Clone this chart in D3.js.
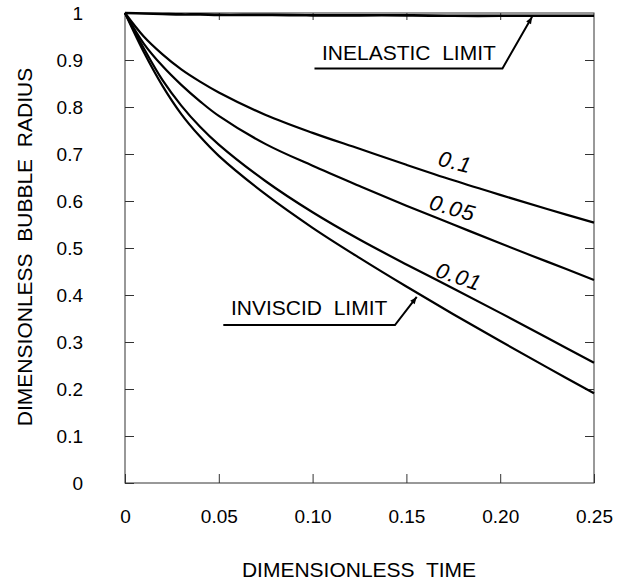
<!DOCTYPE html>
<html>
<head>
<meta charset="utf-8">
<script src="https://cdn.jsdelivr.net/npm/d3@7"></script>
<style>
  body { margin: 0; background: #fff; }
  text { font-family: 'Liberation Sans', Arial, sans-serif; fill: #000; white-space: pre; }
</style>
</head>
<body>
<script>
// values
var times = [0, 0.01, 0.02, 0.03, 0.04, 0.05, 0.075, 0.1, 0.125, 0.15, 0.175, 0.2, 0.225, 0.25];
var rInelastic = [1, 0.999, 0.998, 0.997, 0.997, 0.996, 0.996, 0.995, 0.995, 0.995, 0.994, 0.994, 0.994, 0.994];
var r01 = [1, 0.950, 0.912, 0.880, 0.854, 0.831, 0.783, 0.745, 0.711, 0.677, 0.644, 0.613, 0.583, 0.554];
var r005 = [1, 0.935, 0.887, 0.847, 0.812, 0.781, 0.721, 0.675, 0.632, 0.590, 0.550, 0.510, 0.471, 0.432];
var r001 = [1, 0.925, 0.857, 0.803, 0.758, 0.720, 0.642, 0.576, 0.518, 0.465, 0.414, 0.362, 0.309, 0.256];
var rInviscid = [1, 0.917, 0.845, 0.785, 0.737, 0.696, 0.614, 0.543, 0.479, 0.418, 0.359, 0.302, 0.246, 0.191];

var xTicks = [0, 0.05, 0.1, 0.15, 0.2, 0.25];
var xTickLabels = ['0', '0.05', '0.10', '0.15', '0.20', '0.25'];
var yTicks = [0, 0.1, 0.2, 0.3, 0.4, 0.5, 0.6, 0.7, 0.8, 0.9, 1];
var yTickLabels = ['0', '0.1', '0.2', '0.3', '0.4', '0.5', '0.6', '0.7', '0.8', '0.9', '1'];

var curveNames = ['0.1', '0.05', '0.01'];
var limitNames = ['INELASTIC  LIMIT', 'INVISCID  LIMIT'];

var svg = d3.select('body')
  .append('svg')
  .attr('width', 627)
  .attr('height', 584);

var x = d3.scaleLinear().domain([0, 0.25]).range([125, 594]);
var y = d3.scaleLinear().domain([0, 1]).range([483, 13]);

// ticks, all pointing into the box
function styleAxis(g) {
  g.select('.domain').remove();
  g.selectAll('line').attr('stroke', '#333').attr('stroke-width', 1);
  g.selectAll('text').style('font-size', '19px').attr('fill', '#000');
}

svg.append('g')
  .attr('transform', 'translate(0,' + 483 + ')')
  .call(d3.axisBottom(x).tickValues(xTicks).tickSize(-9).tickSizeOuter(0).tickPadding(27)
    .tickFormat(function (d, i) { return xTickLabels[i]; }))
  .call(styleAxis);

svg.append('g')
  .attr('transform', 'translate(0,' + 13 + ')')
  .call(d3.axisTop(x).tickValues(xTicks.slice(1, -1)).tickSize(-7).tickSizeOuter(0).tickFormat(''))
  .call(styleAxis);

svg.append('g')
  .attr('transform', 'translate(' + 125 + ',0)')
  .call(d3.axisLeft(y).tickValues(yTicks).tickSize(-9).tickSizeOuter(0).tickPadding(42)
    .tickFormat(function (d, i) { return yTickLabels[i]; }))
  .call(styleAxis);

svg.append('g')
  .attr('transform', 'translate(' + 594 + ',0)')
  .call(d3.axisRight(y).tickValues(yTicks.slice(1, -1)).tickSize(-9).tickSizeOuter(0).tickFormat(''))
  .call(styleAxis);

// frame
svg.append('rect')
  .attr('x', x(0))
  .attr('y', y(1))
  .attr('width', x(0.25) - x(0))
  .attr('height', y(0) - y(1))
  .attr('fill', 'none')
  .attr('stroke', '#333')
  .attr('stroke-width', 1);

// curves
var line = d3.line()
  .x(function (d) { return x(d[0]); })
  .y(function (d) { return y(d[1]); })
  .curve(d3.curveCatmullRom.alpha(0.5));

[rInelastic, r01, r005, r001, rInviscid].forEach(function (rs, k) {
  svg.append('path')
    .datum(times.map(function (t, i) { return [t, rs[i]]; }))
    .attr('d', line)
    .attr('fill', 'none')
    .attr('stroke', '#000')
    .attr('stroke-width', k == 0 ? 2.6 : 2.2);
});

// curve labels, italic, tilted along the curves
var labelPos = [[0.176, 0.683, 14], [0.1746, 0.585, 16], [0.178, 0.439, 19]];
curveNames.forEach(function (name, i) {
  var p = labelPos[i];
  svg.append('text')
    .attr('transform', 'translate(' + x(p[0]) + ',' + y(p[1]) + ') rotate(' + p[2] + ')')
    .attr('text-anchor', 'middle')
    .attr('dominant-baseline', 'central')
    .style('font-size', '22px')
    .style('font-style', 'italic')
    .style('letter-spacing', '1px')
    .text(name);
});

// limit callouts: text, underline, slanted leader with arrow
svg.append('defs')
  .append('marker')
  .attr('id', 'arrow')
  .attr('viewBox', '0 0 10 10')
  .attr('refX', 10)
  .attr('refY', 5)
  .attr('markerWidth', 11)
  .attr('markerHeight', 7)
  .attr('markerUnits', 'userSpaceOnUse')
  .attr('orient', 'auto')
  .append('path')
  .attr('d', 'M0,1 L10,5 L0,9 Z')
  .attr('fill', '#000');

// [text t, text R, underline t0, underline t1, underline R, tip t, tip R]
var callouts = [
  [0.105, 0.9, 0.101, 0.2012, 0.882, 0.217, 0.992],
  [0.0565, 0.357, 0.0524, 0.1439, 0.336, 0.1555, 0.396]
];
limitNames.forEach(function (name, i) {
  var c = callouts[i];
  svg.append('text')
    .attr('x', x(c[0]))
    .attr('y', y(c[1]))
    .style('font-size', '21px')
    .text(name);
  svg.append('path')
    .attr('d', 'M' + x(c[2]) + ',' + y(c[4]) + ' L' + x(c[3]) + ',' + y(c[4]) +
      ' L' + x(c[5]) + ',' + y(c[6]))
    .attr('fill', 'none')
    .attr('stroke', '#000')
    .attr('stroke-width', 2)
    .attr('marker-end', 'url(#arrow)');
});

// axis titles
svg.append('text')
  .attr('x', 359)
  .attr('y', 577)
  .attr('text-anchor', 'middle')
  .style('font-size', '21px')
  .text('DIMENSIONLESS  TIME');

svg.append('text')
  .attr('transform', 'translate(' + 32 + ',' + 247 + ') rotate(-90)')
  .attr('text-anchor', 'middle')
  .style('font-size', '21px')
  .text('DIMENSIONLESS  BUBBLE  RADIUS');
</script>
</body>
</html>
